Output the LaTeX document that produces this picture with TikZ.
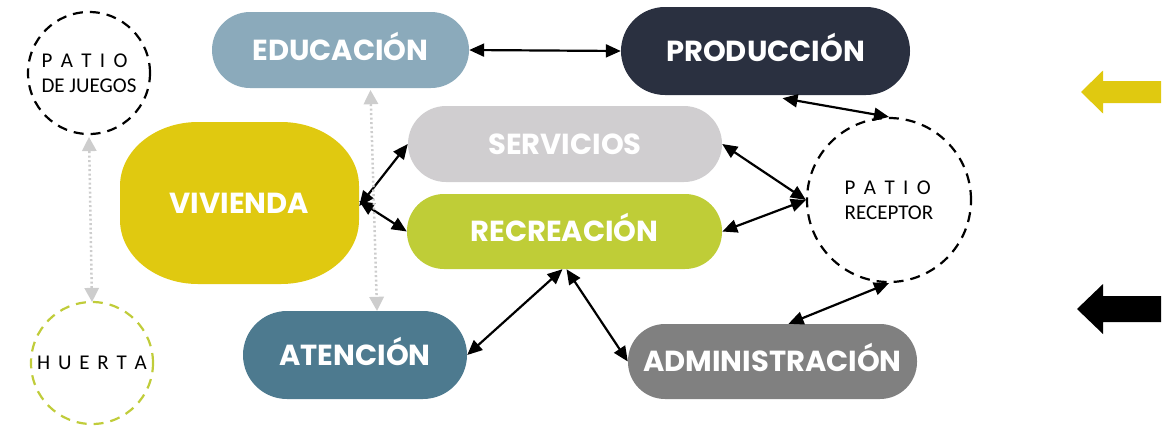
\documentclass[tikz,border=0pt]{standalone}
\usepackage{fontspec}
\setmainfont{Poppins}
\newfontfamily\smallfont{Carlito}
\usetikzlibrary{arrows.meta,calc}
\definecolor{cEdu}{HTML}{8BAABB}
\definecolor{cProd}{HTML}{2A3040}
\definecolor{cServ}{HTML}{D0CED0}
\definecolor{cRecr}{HTML}{BFCD37}
\definecolor{cViv}{HTML}{E0C910}
\definecolor{cAten}{HTML}{4D7A8F}
\definecolor{cAdmin}{HTML}{808080}
\definecolor{cGhost}{HTML}{CDCDCD}
\definecolor{cHuerta}{HTML}{C0CC3A}
\begin{document}
\begin{tikzpicture}[x=1pt,y=-1pt,
  pill/.style={rectangle, inner sep=0pt, text=white,
    font=\fontsize{29}{29}\selectfont\bfseries, text height=20.5pt, text depth=0pt},
  link/.style={line width=2.2pt, {Triangle[length=15pt,width=13pt]}-{Triangle[length=15pt,width=13pt]}},
  ghost/.style={draw=cGhost, line width=2.5pt, dash pattern=on 2pt off 2.5pt,
    {Triangle[length=14pt,width=15pt,fill=cGhost,line width=0pt]}-{Triangle[length=14pt,width=15pt,fill=cGhost,line width=0pt]}},
  patio/.style={circle, draw, line width=2.2pt, dash pattern=on 10pt off 7pt, inner sep=0pt,
    align=left, font=\smallfont\fontsize{21}{25}\selectfont},
  bigarrow/.style={line join=miter}
]
\useasboundingbox (0,0) rectangle (1169,429);
% vivienda shape
\fill[cViv] (120,186) .. controls (120,150.7) and (154.9,122) .. (198,122) -- (281,122)
  .. controls (324.1,122) and (359,150.7) .. (359,186) -- (359,220)
  .. controls (359,255.3) and (324.1,284) .. (281,284) -- (198,284)
  .. controls (154.9,284) and (120,255.3) .. (120,220) -- cycle;
% pills
\node[pill, fill=cEdu, minimum width=257pt, minimum height=76pt, rounded corners=38pt] (edu) at (340.5,50) {EDUCACIÓN};
\node[pill, fill=cProd, minimum width=289pt, minimum height=88pt, rounded corners=44pt] (prod) at (765.5,51) {PRODUCCIÓN};
\node[pill, fill=cServ, minimum width=314pt, minimum height=76pt, rounded corners=38pt] (serv) at (565,144) {SERVICIOS};
\node[pill, fill=cRecr, minimum width=315pt, minimum height=75pt, rounded corners=37pt] (recr) at (564.5,231.5) {RECREACIÓN};
\node[pill, minimum width=239pt, minimum height=162pt] (viv) at (239.5,203) {VIVIENDA};
\node[pill, fill=cAten, minimum width=224pt, minimum height=88pt, rounded corners=44pt] (aten) at (355,355) {ATENCIÓN};
\node[pill, fill=cAdmin, minimum width=289pt, minimum height=75pt, rounded corners=37pt] (admin) at (772.5,361.5) {ADMINISTRACIÓN};
% circles
\node[patio, minimum size=122pt] (jue) at (89,73) {{\spaceskip=8.4pt P A T I O}\\DE JUEGOS};
\node[patio, draw=cHuerta, minimum size=122pt] (huer) at (92,363) {{\spaceskip=7.8pt H U E R T A}};
\node[patio, minimum size=164pt] (rec) at (889,200) {{\spaceskip=8.4pt P A T I O}\\RECEPTOR};
% connectors
\draw[link] (edu.east) -- (prod.west);
\draw[link] ([xshift=17pt,yshift=-3pt]prod.south) -- (rec.north);
\draw[link] (serv.east) -- (rec.west);
\draw[link] (recr.east) -- (rec.west);
\draw[link] ([yshift=-3pt]viv.east) -- (serv.west);
\draw[link] ([yshift=2pt]viv.east) -- (recr.west);
\draw[link] ([xshift=-2pt]recr.south) -- (aten.east);
\draw[link] ([xshift=2pt]recr.south) -- (admin.west);
\draw[link] (rec.south) -- ([xshift=16pt]admin.north);
% ghost connectors
\draw[ghost] ([yshift=-2pt]jue.south) -- ([yshift=-1pt]huer.north);
\draw[ghost] ([xshift=30pt,yshift=-2pt]edu.south) -- ([xshift=22pt]aten.north);
% big arrows
\fill[cViv, bigarrow] (1081,92) -- (1103,70.5) -- (1103,81) -- (1161,81) -- (1161,103) -- (1103,103) -- (1103,113.5) -- cycle;
\fill[black, bigarrow] (1077,309) -- (1103,284) -- (1103,296) -- (1161,296) -- (1161,322) -- (1103,322) -- (1103,334) -- cycle;
\end{tikzpicture}
\end{document}
